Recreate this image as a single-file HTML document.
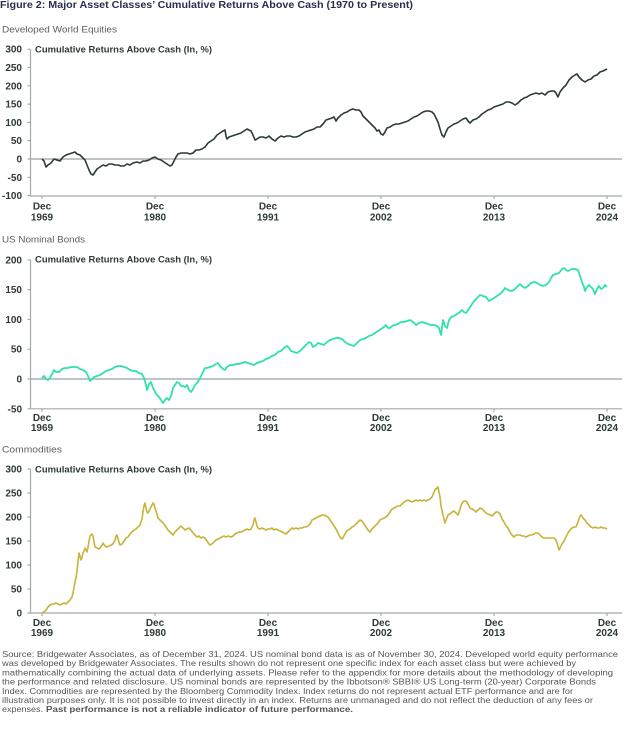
<!DOCTYPE html>
<html>
<head>
<meta charset="utf-8">
<style>
  html,body{margin:0;padding:0;background:#fff;}
  svg{display:block;}
  .t{font-family:"Liberation Sans",sans-serif;}
  .ax{font-family:"Liberation Sans",sans-serif;font-weight:bold;font-size:10px;fill:#2e3a34;}
  .sub{font-family:"Liberation Sans",sans-serif;font-size:9.5px;fill:#5c5f5d;}
  .ct{font-family:"Liberation Sans",sans-serif;font-weight:bold;font-size:9px;fill:#2e3a34;}
  .fn{font-family:"Liberation Sans",sans-serif;font-size:8px;fill:#565656;}
  .axl{stroke:#a3aaa6;stroke-width:1.2;fill:none;}
  .zl{stroke:#9aa19d;stroke-width:1.3;fill:none;}
</style>
</head>
<body>
<svg width="624" height="732" viewBox="0 0 624 732" xmlns="http://www.w3.org/2000/svg">
<rect x="0" y="0" width="624" height="732" fill="#ffffff"/>

<!-- Main title -->
<text class="t" x="0" y="8" font-size="10" font-weight="bold" fill="#27304a" textLength="413" lengthAdjust="spacingAndGlyphs">Figure 2: Major Asset Classes’ Cumulative Returns Above Cash (1970 to Present)</text>

<!-- ===================== EQUITIES ===================== -->
<text class="sub" x="2" y="32.5" textLength="115" lengthAdjust="spacingAndGlyphs">Developed World Equities</text>
<text class="ct" x="35" y="52.3" textLength="177" lengthAdjust="spacingAndGlyphs">Cumulative Returns Above Cash (In, %)</text>

<g class="ax" text-anchor="end">
  <text x="22" y="52.7">300</text>
  <text x="22" y="71">250</text>
  <text x="22" y="89.3">200</text>
  <text x="22" y="107.6">150</text>
  <text x="22" y="125.9">100</text>
  <text x="22" y="144.2">50</text>
  <text x="22" y="162.5">0</text>
  <text x="22" y="180.8">-50</text>
  <text x="22" y="199.1">-100</text>
</g>
<path class="axl" d="M30.5 49.2V196 M27.5 49.2H30.5 M27.5 67.5H30.5 M27.5 85.8H30.5 M27.5 104.1H30.5 M27.5 122.4H30.5 M27.5 140.7H30.5 M27.5 159H30.5 M27.5 177.3H30.5 M27.5 195.6H30.5"/>
<path class="axl" d="M30 196H622 M42 196v3 M155 196v3 M268 196v3 M381 196v3 M494 196v3 M607 196v3"/>
<path class="zl" d="M30.5 159H622"/>
<g class="ax" text-anchor="middle">
  <text x="42" y="209.5">Dec</text><text x="42" y="220.5">1969</text>
  <text x="155" y="209.5">Dec</text><text x="155" y="220.5">1980</text>
  <text x="268" y="209.5">Dec</text><text x="268" y="220.5">1991</text>
  <text x="381" y="209.5">Dec</text><text x="381" y="220.5">2002</text>
  <text x="494" y="209.5">Dec</text><text x="494" y="220.5">2013</text>
  <text x="607" y="209.5">Dec</text><text x="607" y="220.5">2024</text>
</g>
<polyline fill="none" stroke="#2d3b33" stroke-width="1.6" stroke-linejoin="round" points="42,159 44,161 46,167 48,165 51,163 54,159 57,160 60,161 63,157 66,155 69,154 72,153 75,152 77,154 80,155 83,158 85,160 87,165 89,170 91,174 93,175 95,172 97,169 100,167 103,165 106,166 109,164 112,164 115,165 118,165 121,166 124,166 127,164 130,165 133,163 137,162 140,163 143,161 146,161 149,160 152,158 155,157 158,159 161,160 164,162 167,164 170,166 172,165 174,161 176,157 178,154 181,153 184,153 187,153 190,154 193,153 196,150 199,150 202,149 205,147 208,143 211,141 214,139 217,135 220,133 223,131 225,130 226,136 227,139 229,137 232,136 235,135 238,134 241,133 244,131 247,129 249,130 251,131 253,135 255,140 257,139 260,137 263,137 266,138 269,136 272,139 275,141 278,138 281,136 284,137 287,136 290,136 293,137 296,137 299,136 302,134 305,132 308,131 311,130 314,129 317,127 320,127 323,124 326,120 329,119 332,118 334,117 336,121 338,118 341,115 344,113 347,112 350,110 353,109 356,110 359,110 361,112 363,116 366,119 369,122 372,125 375,128 377,131 379,130 381,134 383,135 385,132 387,128 390,127 393,125 396,124 399,124 402,123 405,122 408,121 411,119 414,117 417,116 420,114 423,112 426,111 429,111 432,112 434,114 436,118 438,122 440,129 442,135 444,137 446,132 448,128 451,126 454,124 457,123 460,121 463,119 466,118 468,121 470,123 473,120 476,119 479,117 482,114 485,112 488,110 491,109 494,107 497,106 500,105 503,104 506,102 509,102 512,103 515,105 518,103 521,100 524,98 527,97 530,95 533,94 536,93 539,94 542,93 545,95 548,92 551,91 554,91 556,93 558,97 560,92 563,88 566,85 569,80 572,77 575,75 577,74 579,77 582,80 585,82 588,80 591,79 594,76 597,75 600,72 603,71 605,70 607,69"/>

<!-- ===================== BONDS ===================== -->
<text class="sub" x="2" y="242.5" textLength="83" lengthAdjust="spacingAndGlyphs">US Nominal Bonds</text>
<text class="ct" x="35" y="262.5" textLength="177" lengthAdjust="spacingAndGlyphs">Cumulative Returns Above Cash (In, %)</text>
<g class="ax" text-anchor="end">
  <text x="22" y="263.3">200</text>
  <text x="22" y="293.1">150</text>
  <text x="22" y="322.9">100</text>
  <text x="22" y="352.7">50</text>
  <text x="22" y="382.5">0</text>
  <text x="22" y="412.3">-50</text>
</g>
<path class="axl" d="M30.5 259.8V409 M27.5 259.8H30.5 M27.5 289.6H30.5 M27.5 319.4H30.5 M27.5 349.2H30.5 M27.5 379H30.5 M27.5 408.8H30.5"/>
<path class="axl" d="M30 408.8H622 M42 408.8v3 M155 408.8v3 M268 408.8v3 M381 408.8v3 M494 408.8v3 M607 408.8v3"/>
<path class="zl" d="M30.5 379H622"/>
<g class="ax" text-anchor="middle">
  <text x="42" y="421">Dec</text><text x="42" y="431">1969</text>
  <text x="155" y="421">Dec</text><text x="155" y="431">1980</text>
  <text x="268" y="421">Dec</text><text x="268" y="431">1991</text>
  <text x="381" y="421">Dec</text><text x="381" y="431">2002</text>
  <text x="494" y="421">Dec</text><text x="494" y="431">2013</text>
  <text x="607" y="421">Dec</text><text x="607" y="431">2024</text>
</g>
<polyline fill="none" stroke="#2ee3a4" stroke-width="1.8" stroke-linejoin="round" points="42,378 44,376 46,379 48,380 50,378 52,374 54,370 56,372 59,372 62,369 65,368 68,368 71,367 74,367 77,367 80,369 83,370 86,372 88,376 90,381 92,379 94,377 97,376 100,375 103,373 106,371 109,370 112,369 115,367 118,366 121,366 124,367 127,368 130,370 133,371 136,371 139,373 142,374 144,378 146,385 147,390 149,384 151,382 153,388 155,392 157,395 159,397 161,400 163,403 165,400 167,398 169,400 171,396 173,388 175,385 177,382 179,383 181,386 183,386 185,387 187,385 189,390 191,392 193,389 195,385 197,383 199,380 201,376 203,372 205,368 207,368 210,367 213,366 216,364 218,363 220,366 223,369 225,370 227,367 230,365 233,365 236,364 239,364 242,363 245,362 248,363 251,364 254,365 257,363 260,362 263,361 266,359 269,358 272,356 275,355 278,352 281,351 284,348 287,346 289,348 291,351 294,352 297,353 300,351 303,348 306,345 309,342 311,343 313,347 315,346 318,343 321,344 324,345 327,342 330,340 333,339 336,338 339,338 342,339 345,342 348,344 351,345 354,346 357,343 360,340 363,339 366,338 369,336 372,335 375,333 378,331 381,329 384,327 386,325 388,328 390,328 392,326 395,325 398,324 401,322 404,322 407,321 410,320 413,322 416,325 419,323 422,322 425,323 428,324 431,325 434,325 437,326 439,328 441,335 443,320 445,326 447,328 449,320 451,317 454,316 457,314 460,312 462,310 464,312 466,313 469,309 472,304 475,300 478,297 480,295 483,296 486,297 489,301 491,300 494,298 497,296 500,294 503,291 505,288 508,290 511,291 514,290 517,287 520,284 522,286 525,288 528,286 531,283 534,282 537,283 540,285 543,286 546,285 549,282 551,278 553,275 556,274 559,273 562,269 564,268 566,270 568,271 570,270 572,269 575,269 578,270 580,276 582,282 584,287 585,291 587,287 589,285 591,287 593,289 595,294 597,289 599,286 601,289 603,288 605,285 607,287"/>

<!-- ===================== COMMODITIES ===================== -->
<text class="sub" x="2" y="452.5" textLength="60" lengthAdjust="spacingAndGlyphs">Commodities</text>
<text class="ct" x="35" y="472.3" textLength="177" lengthAdjust="spacingAndGlyphs">Cumulative Returns Above Cash (In, %)</text>
<g class="ax" text-anchor="end">
  <text x="22" y="472.5">300</text>
  <text x="22" y="496.5">250</text>
  <text x="22" y="520.5">200</text>
  <text x="22" y="544.5">150</text>
  <text x="22" y="568.5">100</text>
  <text x="22" y="592.5">50</text>
  <text x="22" y="616.5">0</text>
</g>
<path class="axl" d="M30.5 469V613 M27.5 469H30.5 M27.5 493H30.5 M27.5 517H30.5 M27.5 541H30.5 M27.5 565H30.5 M27.5 589H30.5 M27.5 613H30.5"/>
<path class="axl" d="M30 613H622 M42 613v3 M155 613v3 M268 613v3 M381 613v3 M494 613v3 M607 613v3"/>
<g class="ax" text-anchor="middle">
  <text x="42" y="626">Dec</text><text x="42" y="636">1969</text>
  <text x="155" y="626">Dec</text><text x="155" y="636">1980</text>
  <text x="268" y="626">Dec</text><text x="268" y="636">1991</text>
  <text x="381" y="626">Dec</text><text x="381" y="636">2002</text>
  <text x="494" y="626">Dec</text><text x="494" y="636">2013</text>
  <text x="607" y="626">Dec</text><text x="607" y="636">2024</text>
</g>
<polyline fill="none" stroke="#c8b43c" stroke-width="1.6" stroke-linejoin="round" points="42,613 44,612 46,610 48,607 50,605 52,604 54,604 56,603 58,604 60,605 62,604 64,603 66,604 68,602 70,600 72,597 73,593 74,588 75,582 76,578 77,571 78,562 79,553 80,556 81,560 82,558 83,553 84,551 85,548 86,550 87,552 88,547 89,541 90,536 91,535 92,534 93,536 94,542 95,547 97,548 99,549 100,548 102,545 103,543 105,546 107,547 109,546 111,545 113,544 115,540 116,536 117,535 118,539 120,545 122,544 124,541 126,538 128,537 130,534 132,532 134,530 136,529 138,527 140,525 142,519 143,512 144,506 145,503 146,508 147,512 148,513 150,509 152,505 153,503 154,504 155,508 157,514 158,518 160,520 162,522 164,524 166,527 168,530 170,532 172,534 173,535 175,532 177,530 179,528 181,526 183,528 185,530 187,529 189,528 191,530 193,533 195,535 197,537 199,536 201,538 203,537 205,538 207,541 209,544 210,545 212,544 214,542 216,540 218,539 220,538 222,537 224,536 226,537 228,536 231,537 233,536 235,534 237,533 239,532 241,532 243,531 245,530 247,529 249,530 251,529 253,525 254,520 255,518 256,522 257,526 258,528 260,529 262,528 264,529 266,530 268,529 270,529 272,528 274,530 276,529 278,530 280,531 282,532 284,533 286,534 288,532 290,530 292,528 294,529 296,528 298,529 300,528 302,528 304,527 306,527 308,526 310,524 312,520 314,519 316,518 318,517 320,516 322,515 324,515 326,516 328,517 330,520 332,523 334,526 336,529 338,533 340,537 342,539 344,536 346,532 348,530 350,529 352,527 354,526 356,524 358,522 360,520 362,521 364,524 366,527 368,530 370,532 372,529 374,527 376,525 378,523 380,520 382,519 384,518 386,517 388,515 390,512 392,509 394,508 396,507 398,506 400,506 402,504 404,502 406,501 408,500 410,501 412,502 414,501 416,500 418,501 420,500 422,501 424,500 426,501 428,500 430,499 432,497 434,492 435,490 437,488 438,487 440,497 441,506 443,515 445,523 446,520 448,515 450,514 452,512 454,511 456,513 458,515 460,509 462,503 464,501 466,501 468,504 470,508 472,509 474,510 476,512 478,510 480,508 482,509 484,511 486,513 488,514 490,515 492,516 494,514 496,512 498,512 500,514 502,519 504,522 506,526 508,528 510,532 512,535 514,537 516,535 518,535 520,535 522,536 524,536 526,537 528,536 530,535 532,535 534,534 536,533 538,533 540,535 542,537 544,538 546,538 548,538 550,538 552,538 554,538 556,540 558,546 559,550 560,548 562,544 564,541 566,537 568,533 570,530 572,528 574,527 576,527 578,522 580,516 581,515 583,518 585,520 587,523 589,525 591,527 593,528 595,527 597,528 599,528 601,527 603,528 605,528 607,529"/>

<!-- ===================== FOOTNOTE ===================== -->
<text class="fn" x="2" y="657" textLength="616" lengthAdjust="spacingAndGlyphs">Source: Bridgewater Associates, as of December 31, 2024. US nominal bond data is as of November 30, 2024. Developed world equity performance</text>
<text class="fn" x="2" y="666.2" textLength="574" lengthAdjust="spacingAndGlyphs">was developed by Bridgewater Associates. The results shown do not represent one specific index for each asset class but were achieved by</text>
<text class="fn" x="2" y="675.4" textLength="611" lengthAdjust="spacingAndGlyphs">mathematically combining the actual data of underlying assets. Please refer to the appendix for more details about the methodology of developing</text>
<text class="fn" x="2" y="684.6" textLength="594" lengthAdjust="spacingAndGlyphs">the performance and related disclosure. US nominal bonds are represented by the Ibbotson® SBBI® US Long-term (20-year) Corporate Bonds</text>
<text class="fn" x="2" y="693.8" textLength="571" lengthAdjust="spacingAndGlyphs">Index. Commodities are represented by the Bloomberg Commodity Index. Index returns do not represent actual ETF performance and are for</text>
<text class="fn" x="2" y="703" textLength="591" lengthAdjust="spacingAndGlyphs">illustration purposes only. It is not possible to invest directly in an index. Returns are unmanaged and do not reflect the deduction of any fees or</text>
<text class="fn" x="2" y="712.2" textLength="41" lengthAdjust="spacingAndGlyphs">expenses.</text>
<text class="fn" x="46" y="712.2" font-weight="bold" fill="#2e2e2e" textLength="307" lengthAdjust="spacingAndGlyphs">Past performance is not a reliable indicator of future performance.</text>
</svg>
</body>
</html>
